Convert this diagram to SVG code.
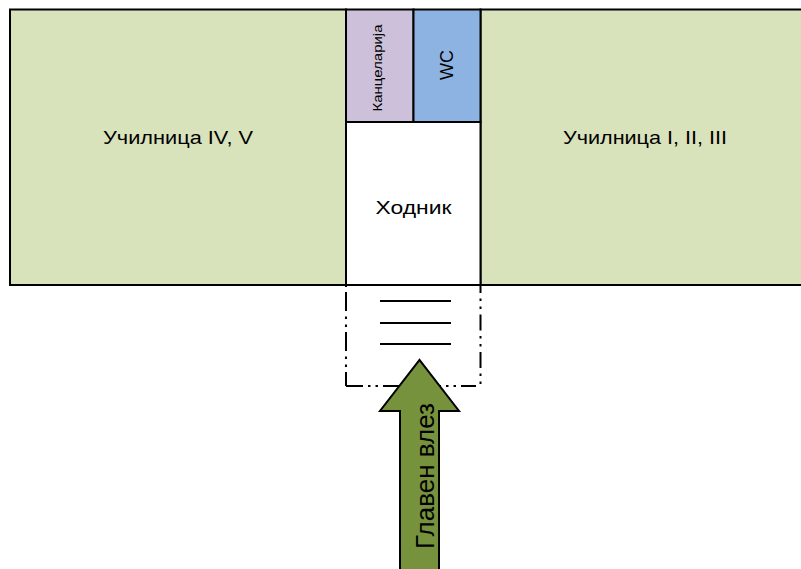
<svg xmlns="http://www.w3.org/2000/svg" width="801" height="569" viewBox="0 0 801 569">
<style>
.room{stroke:#000;stroke-width:2}
.t{font-family:"Liberation Sans",Arial,sans-serif;fill:#000;text-anchor:middle}
.stair{stroke:#000;stroke-width:2;fill:none}
.dd{stroke:#000;stroke-width:2;fill:none}
</style>
<rect width="801" height="569" fill="#fff"/>
<g id="classroom-iv-v"><rect class="room" x="10" y="9.500" width="336" height="275.500" fill="#d8e3bb"/>
<text class="t" x="178" y="144" font-size="19" textLength="150" lengthAdjust="spacingAndGlyphs">Училница IV, V</text></g>
<g id="classroom-i-ii-iii"><rect class="room" x="480.500" y="9.500" width="325" height="275.500" fill="#d8e3bb"/>
<text class="t" x="645" y="144" font-size="19" textLength="164" lengthAdjust="spacingAndGlyphs">Училница I, II, III</text></g>
<g id="hallway"><rect class="room" x="346" y="122" width="134.500" height="163" fill="#fff"/>
<text class="t" x="413.500" y="214" font-size="19" textLength="76" lengthAdjust="spacingAndGlyphs">Ходник</text></g>
<g id="office"><rect class="room" x="346" y="9.500" width="67.500" height="112.500" fill="#ccc0da"/>
<text class="t" transform="translate(381.500 68) rotate(-90)" font-size="12.500" textLength="87" lengthAdjust="spacingAndGlyphs">Канцеларија</text></g>
<g id="wc"><rect class="room" x="413.500" y="9.500" width="67" height="112.500" fill="#8db3e2"/>
<text class="t" transform="translate(453 65) rotate(-90)" font-size="18.500" textLength="30" lengthAdjust="spacingAndGlyphs">WC</text></g>
<g id="stairs">
<path class="dd" stroke-dasharray="19 5.500 2.500 5.500 2.500 5" stroke-dashoffset="34" d="M346 286V386"/>
<path class="dd" stroke-dasharray="19 5 2.500 5 2.500 5" stroke-dashoffset="2" d="M346 386H476"/>
<path class="dd" stroke-dasharray="16 5.500 2.500 5.500 2.500 5.500" stroke-dashoffset="19.500" d="M480.500 386V286"/>
<path class="stair" d="M380 301H451M380 323H451M380 344H451"/>
</g>
<g id="entrance"><path d="M400 569V411H380L419.500 360L459 411H439V569" fill="#76923c" stroke="#000" stroke-width="2"/>
<text class="t" transform="translate(433.500 476) rotate(-90)" font-size="25" textLength="146" lengthAdjust="spacingAndGlyphs">Главен влез</text></g>
</svg>
